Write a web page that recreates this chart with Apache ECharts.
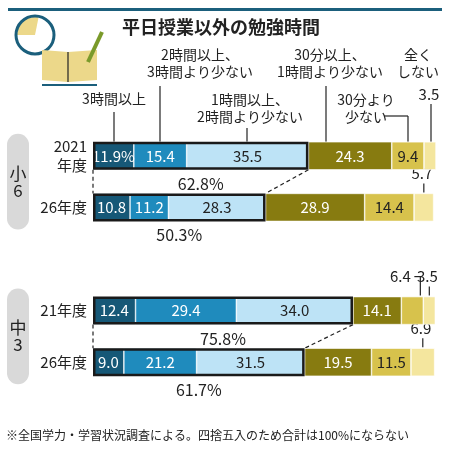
<!DOCTYPE html>
<html>
<head>
<meta charset="utf-8">
<script src="https://cdn.jsdelivr.net/npm/echarts@6/dist/echarts.min.js"></script>
<style>
  html, body { margin: 0; padding: 0; background: #fff; }
  #main { width: 450px; height: 450px; }
</style>
</head>
<body>
<div id="main"></div>
<script type="text/javascript">
    // data
    var rows = ['2021\n年度', '26年度', '', '21年度', '26年度'];
    var over3h = [11.9, 10.8, null, 12.4, 9.0];
    var h2to3 = [15.4, 11.2, null, 29.4, 21.2];
    var h1to2 = [35.5, 28.3, null, 34.0, 31.5];
    var m30to1h = [24.3, 28.9, null, 14.1, 19.5];
    var under30 = [9.4, 14.4, null, 6.4, 11.5];
    var none = [3.5, 5.7, null, 3.5, 6.9];
    var over1hTotal = [62.8, 50.3, null, 75.8, 61.7];

    var font = '"Noto Sans CJK JP", sans-serif';
    var myChart = echarts.init(document.getElementById('main'));

    function seg(name, data, color, textColor, smallTop) {
        return {
            name: name, type: 'bar', stack: 'all', data: data, barWidth: 28,
            itemStyle: { color: color, borderColor: '#fff', borderWidth: 0.6 },
            label: {
                show: true, fontFamily: font, fontSize: 15, color: textColor,
                formatter: function (p) {
                    if (smallTop && smallTop.indexOf(p.dataIndex) >= 0) return '';
                    return (name === '3時間以上' && p.dataIndex === 0) ? p.value.toFixed(1) + '%' : p.value.toFixed(1);
                }
            },
            silent: true
        };
    }

    var option = {
        animation: false,
        grid: { left: 93, right: 14, top: 130, bottom: 62 },
        xAxis: [
            { type: 'value', min: 0, max: 100, show: false },
            { type: 'value', min: 0, max: 100, show: false }
        ],
        yAxis: {
            type: 'category', data: rows, inverse: true,
            axisLine: { show: false }, axisTick: { show: false },
            axisLabel: { fontFamily: font, fontSize: 15, color: '#222', align: 'right', margin: 6, lineHeight: 19 }
        },
        series: [
            seg('3時間以上', over3h, '#165877', '#fff'),
            seg('2時間以上', h2to3, '#1f8bbd', '#fff'),
            seg('1時間以上', h1to2, '#bde3f6', '#222'),
            seg('30分以上', m30to1h, '#877b10', '#fff'),
            seg('30分より少ない', under30, '#d7c24c', '#222', [3]),
            seg('全くしない', none, '#f4e69e', '#222', [0, 1, 3, 4]),
            {
                name: '1時間以上計', type: 'bar', xAxisIndex: 1, data: over1hTotal, barWidth: 28,
                barGap: '-100%', z: 5, silent: true,
                itemStyle: { color: 'rgba(0,0,0,0)', borderColor: '#1a1a1a', borderWidth: 2.5 },
                label: {
                    show: true, position: 'bottom', distance: 6, fontFamily: font, fontSize: 16, color: '#222',
                    formatter: function (p) { return p.value.toFixed(1) + '%'; }
                }
            }
        ]
    };
    myChart.setOption(option);

    // extra texts / lines positioned from the chart's own scale
    var g = [];
    function px(v, row) { return myChart.convertToPixel({ xAxisIndex: 0, yAxisIndex: 0 }, [v, row]); }
    function cum(i, upto) {
        var s = [over3h, h2to3, h1to2, m30to1h, under30, none], t = 0;
        for (var k = 0; k < upto; k++) t += s[k][i];
        return t;
    }
    function txt(x, y, s, size, align, weight) {
        g.push({ type: 'text', x: x, y: y, style: { text: s, fontFamily: font, fontSize: size || 15, fill: '#222', align: align || 'center', verticalAlign: 'middle', fontWeight: weight || 'normal', lineHeight: 17 } });
    }
    function line(x1, y1, x2, y2, dash) {
        g.push({ type: 'line', shape: { x1: x1, y1: y1, x2: x2, y2: y2 }, style: { stroke: '#222', lineWidth: 1.2, lineDash: dash ? [4, 3] : null } });
    }
    // values of narrow segments above the bars
    [1, 3, 4].forEach(function (i) {
        var mid = cum(i, 5) + none[i] / 2;
        var p = px(mid, i);
        txt(p[0] - 2, p[1] - 34, none[i].toFixed(1), 15);
        line(p[0], p[1] - 24, p[0], p[1] - 15);
    });
    var p64 = px(cum(3, 4) + under30[3] / 2, 3);
    txt(p64[0] - 12, p64[1] - 34, under30[3].toFixed(1), 15);
    line(p64[0] + 2, p64[1] - 34, p64[0] + 8, p64[1] - 34);
    line(p64[0] + 8, p64[1] - 34, p64[0] + 8, p64[1] - 15);

    // dashed connectors between outlined blocks
    [[0, 1], [3, 4]].forEach(function (a) {
        var t0 = px(0, a[0]), t1 = px(0, a[1]);
        line(t0[0], t0[1] + 14, t1[0], t1[1] - 14, true);
        var e0 = px(over1hTotal[a[0]], a[0]), e1 = px(over1hTotal[a[1]], a[1]);
        line(e0[0], e0[1] + 14, e1[0], e1[1] - 14, true);
    });

    // header legend texts with leader lines
    var top0 = px(0, 0)[1] - 14;
    txt(114, 99, '3時間以上', 14);
    line(114, 112, 114, top0);
    txt(200, 63, '2時間以上、\n3時間より少ない', 14, 'center');
    line(160, 86, 160, top0);
    txt(250, 108, '1時間以上、\n2時間より少ない', 14);
    line(247, 128, 247, top0);
    txt(330, 63, '30分以上、\n1時間より少ない', 14);
    line(326, 86, 326, top0);
    txt(366, 108, '30分より\n少ない', 14);
    line(384, 116, 408, 116); line(408, 116, 408, top0);
    txt(418, 63, '全く\nしない', 14);
    txt(429, 94, none[0].toFixed(1), 15);
    line(431, 104, 431, top0);

    // group badges
    [['小\n6', 0, 1], ['中\n3', 3, 4]].forEach(function (a) {
        var y0 = px(0, a[1])[1], y1 = px(0, a[2])[1];
        g.push({ type: 'rect', shape: { x: 7, y: y0 - 22, width: 22, height: y1 - y0 + 44, r: 11 }, style: { fill: '#d9d9d9' } });
        txt(18, (y0 + y1) / 2, a[0], 17);
    });

    // title, rule and icon
    g.push({ type: 'rect', shape: { x: 8, y: 8, width: 434, height: 3 }, style: { fill: '#1b5f7c' } });
    txt(122, 27, '平日授業以外の勉強時間', 18, 'left', 'bold');
    g.push({ type: 'sector', shape: { cx: 35, cy: 35, r: 18, startAngle: -Math.PI, endAngle: -Math.PI / 2 + 0.2 }, style: { fill: '#ecd88a' } });
    g.push({ type: 'circle', shape: { cx: 35, cy: 35, r: 19 }, style: { fill: 'none', stroke: '#1b5f7c', lineWidth: 3 } });
    g.push({ type: 'polygon', shape: { points: [[42, 50], [68, 52], [97, 50], [97, 80], [68, 82], [42, 80]] }, style: { fill: '#ecd88a' } });
    line(68, 52, 68, 82);
    g.push({ type: 'line', shape: { x1: 88, y1: 62, x2: 102, y2: 32 }, style: { stroke: '#7a9a2a', lineWidth: 4 } });
    g.push({ type: 'line', shape: { x1: 42, y1: 85, x2: 97, y2: 85 }, style: { stroke: '#1b5f7c', lineWidth: 2 } });

    // footnote
    txt(6, 435, '※全国学力・学習状況調査による。四捨五入のため合計は100%にならない', 12, 'left');

    myChart.setOption({ graphic: g });
</script>
</body>
</html>
